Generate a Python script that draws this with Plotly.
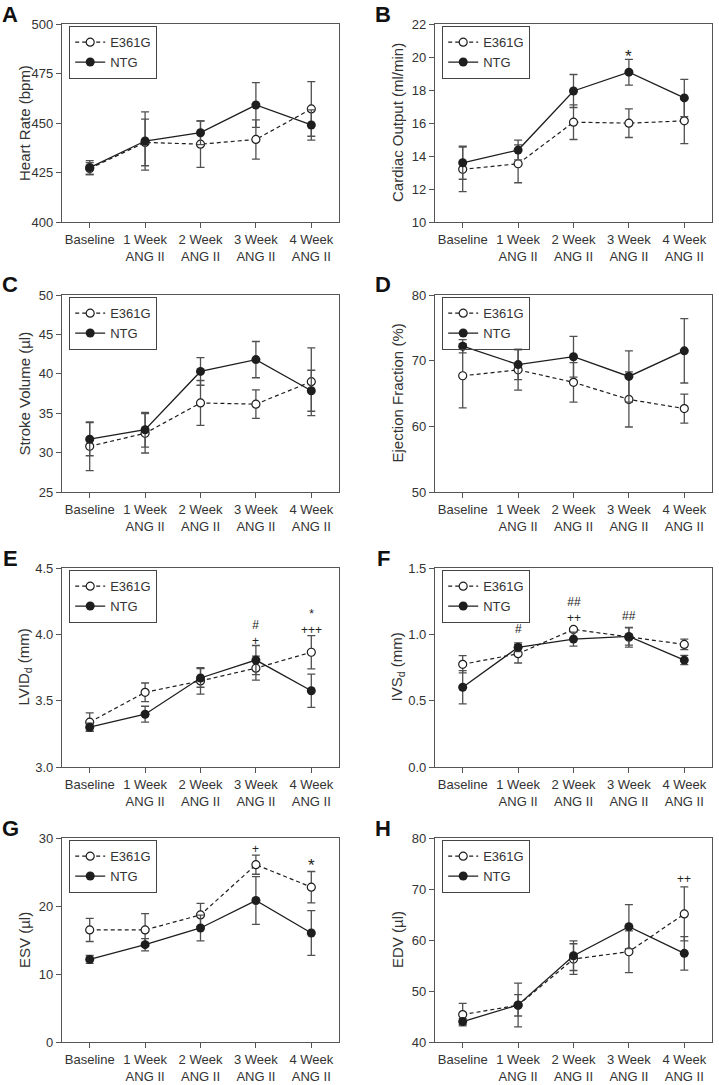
import plotly.graph_objects as go

W, H = 719, 1085

categories = ["Baseline", "1 Week<br>ANG II", "2 Week<br>ANG II", "3 Week<br>ANG II", "4 Week<br>ANG II"]
series_names = ["E361G", "NTG"]

# A: Heart rate (bpm)
hr_e361g = [427.0, 440.2, 439.3, 441.7, 457.1]
hr_e361g_err = [3.0, 11.8, 11.7, 9.9, 13.8]
hr_ntg = [427.5, 440.9, 445.1, 459.1, 449.0]
hr_ntg_err = [3.5, 14.7, 6.0, 11.3, 7.6]

# B: Cardiac output (ml/min)
co_e361g = [13.19, 13.53, 16.05, 15.99, 16.13]
co_e361g_err = [1.35, 1.15, 1.05, 0.87, 1.38]
co_ntg = [13.59, 14.36, 17.94, 19.08, 17.52]
co_ntg_err = [1.0, 0.6, 1.0, 0.78, 1.13]

# C: Stroke volume (µl)
sv_e361g = [30.8, 32.45, 36.3, 36.15, 39.0]
sv_e361g_err = [3.1, 2.5, 2.85, 1.8, 4.3]
sv_ntg = [31.7, 32.9, 40.3, 41.8, 37.85]
sv_ntg_err = [2.1, 2.2, 1.75, 2.3, 2.6]

# D: Ejection fraction (%)
ef_e361g = [67.7, 68.6, 66.7, 64.1, 62.7]
ef_e361g_err = [4.9, 3.1, 3.0, 4.2, 2.2]
ef_ntg = [72.2, 69.4, 70.6, 67.6, 71.5]
ef_ntg_err = [1.0, 2.3, 3.1, 3.9, 4.9]

# E: LVIDd (mm)
lvid_e361g = [3.338, 3.563, 3.649, 3.745, 3.865]
lvid_e361g_err = [0.07, 0.07, 0.10, 0.09, 0.125]
lvid_ntg = [3.30, 3.398, 3.671, 3.806, 3.575]
lvid_ntg_err = [0.03, 0.06, 0.07, 0.11, 0.125]

# F: IVSd (mm)
ivs_e361g = [0.774, 0.854, 1.037, 0.978, 0.924]
ivs_e361g_err = [0.065, 0.07, 0.01, 0.075, 0.04]
ivs_ntg = [0.601, 0.902, 0.964, 0.984, 0.806]
ivs_ntg_err = [0.125, 0.033, 0.053, 0.065, 0.035]

# G: ESV (µl)
esv_e361g = [16.48, 16.48, 18.69, 26.07, 22.77]
esv_e361g_err = [1.7, 2.4, 1.7, 1.4, 2.3]
esv_ntg = [12.15, 14.31, 16.77, 20.81, 16.03]
esv_ntg_err = [0.6, 0.9, 1.9, 3.5, 3.3]

# H: EDV (µl)
edv_e361g = [45.38, 47.2, 56.26, 57.7, 65.11]
edv_e361g_err = [2.2, 2.1, 3.0, 4.1, 5.3]
edv_ntg = [44.0, 47.25, 56.92, 62.62, 57.38]
edv_ntg_err = [0.6, 4.3, 2.9, 4.3, 3.3]

panel_letters = ["A", "B", "C", "D", "E", "F", "G", "H"]
y_titles = ["Heart Rate (bpm)", "Cardiac Output (ml/min)", "Stroke Volume (µl)",
            "Ejection Fraction (%)", "LVID<sub>d</sub> (mm)", "IVS<sub>d</sub> (mm)",
            "ESV (µl)", "EDV (µl)"]
y_ticks = [[400, 425, 450, 475, 500], [10, 12, 14, 16, 18, 20, 22], [25, 30, 35, 40, 45, 50],
           [50, 60, 70, 80], [3.0, 3.5, 4.0, 4.5], [0.0, 0.5, 1.0, 1.5], [0, 10, 20, 30],
           [40, 50, 60, 70, 80]]
y_tickformat = ["d", "d", "d", "d", ".1f", ".1f", "d", "d"]

# significance marks: (category index, y value, text)
sig_B = [(3, 20.3, "*")]
sig_E = [(3, 4.01, "#<br>+"), (4, 4.09, "*<br>+++")]
sig_F = [(1, 1.044, "#"), (2, 1.18, "##<br>++"), (3, 1.137, "##")]
sig_G = [(3, 28.4, "+"), (4, 26.5, "*")]
sig_H = [(4, 71.9, "++")]
sig_marks = [[], sig_B, [], [], sig_E, sig_F, sig_G, sig_H]

panel_data = [
    (hr_e361g, hr_e361g_err, hr_ntg, hr_ntg_err),
    (co_e361g, co_e361g_err, co_ntg, co_ntg_err),
    (sv_e361g, sv_e361g_err, sv_ntg, sv_ntg_err),
    (ef_e361g, ef_e361g_err, ef_ntg, ef_ntg_err),
    (lvid_e361g, lvid_e361g_err, lvid_ntg, lvid_ntg_err),
    (ivs_e361g, ivs_e361g_err, ivs_ntg, ivs_ntg_err),
    (esv_e361g, esv_e361g_err, esv_ntg, esv_ntg_err),
    (edv_e361g, edv_e361g_err, edv_ntg, edv_ntg_err),
]

# layout geometry (pixels)
cols_px = [(62, 339), (435, 712)]
rows_px = [(24, 222), (295, 492), (568, 767), (838, 1042)]

def px_x(p):
    return p / W

def px_y(p):
    return 1 - p / H

FONT = "Liberation Sans, Arial, Helvetica, sans-serif"
LINE_C = "#1e1e1e"
ERR_C = "#505050"
AX_C = "#555555"
TXT_C = "#333333"

fig = go.Figure()
layout = {}
annotations = []

for i in range(8):
    r, c = divmod(i, 2)
    x0, x1 = cols_px[c]
    yt, yb = rows_px[r]
    sfx = "" if i == 0 else str(i + 1)
    xa, ya = "x" + sfx, "y" + sfx
    leg = "legend" + sfx
    e_vals, e_err, n_vals, n_err = panel_data[i]

    fig.add_trace(go.Scatter(
        x=categories, y=e_vals, name=series_names[0], xaxis=xa, yaxis=ya, legend=leg,
        mode="lines+markers",
        line=dict(color=LINE_C, width=1.2, dash="4px,3px"),
        marker=dict(symbol="circle", size=8, color="white", line=dict(color=LINE_C, width=1.2)),
        error_y=dict(type="data", array=e_err, visible=True, color=ERR_C, thickness=1.3, width=4),
    ))
    fig.add_trace(go.Scatter(
        x=categories, y=n_vals, name=series_names[1], xaxis=xa, yaxis=ya, legend=leg,
        mode="lines+markers",
        line=dict(color=LINE_C, width=1.3),
        marker=dict(symbol="circle", size=9, color=LINE_C),
        error_y=dict(type="data", array=n_err, visible=True, color=ERR_C, thickness=1.3, width=4),
    ))

    layout["xaxis" + sfx] = dict(
        domain=[px_x(x0), px_x(x1)], anchor=ya, type="category", automargin=False,
        range=[-0.5, 4.5], showline=True, linecolor=AX_C, linewidth=1.2, mirror=True,
        ticks="outside", ticklen=5, tickcolor=AX_C, tickwidth=1.2,
        tickfont=dict(size=13, color=TXT_C, family=FONT), showgrid=False, zeroline=False,
    )
    yt_vals = y_ticks[i]
    layout["yaxis" + sfx] = dict(
        domain=[px_y(yb), px_y(yt)], anchor=xa, automargin=False,
        range=[yt_vals[0], yt_vals[-1]], tickvals=yt_vals, tickformat=y_tickformat[i],
        showline=True, linecolor=AX_C, linewidth=1.2, mirror=True,
        ticks="outside", ticklen=5, tickcolor=AX_C, tickwidth=1.2,
        tickfont=dict(size=13, color=TXT_C, family=FONT), showgrid=False, zeroline=False,
    )
    layout[leg] = dict(
        x=px_x(x0 + 7), y=px_y(yt + 2), xanchor="left", yanchor="top",
        bordercolor="#444444", borderwidth=1.2, bgcolor="rgba(255,255,255,0)", itemwidth=30,
        font=dict(size=13, color=TXT_C, family=FONT),
    )
    # y-axis title
    annotations.append(dict(
        text=y_titles[i], textangle=-90, xref="paper", yref="paper",
        x=px_x(x0 - 38), y=px_y((yt + yb) / 2), xanchor="center", yanchor="middle",
        showarrow=False, font=dict(size=15, color=TXT_C, family=FONT),
    ))
    # panel letter
    annotations.append(dict(
        text="<b>" + panel_letters[i] + "</b>", xref="paper", yref="paper",
        x=px_x(x0 - 52), y=px_y(yt - 10), xanchor="center", yanchor="middle",
        showarrow=False, font=dict(size=22, color="#111111", family=FONT),
    ))
    for (ci, yv, txt) in sig_marks[i]:
        big = txt == "*" and i in (1, 6)
        annotations.append(dict(
            text=txt, xref=xa, yref=ya, x=categories[ci], y=yv,
            xanchor="center", yanchor="middle", showarrow=False,
            yshift=-4 if big else 0,
            font=dict(size=17 if big else 12, color="#222222", family=FONT),
        ))

fig.update_layout(
    template="none",
    width=W, height=H, margin=dict(l=0, r=0, t=0, b=0, pad=0, autoexpand=False),
    paper_bgcolor="white", plot_bgcolor="white",
    font=dict(family=FONT, color=TXT_C),
    annotations=annotations, **layout,
)

fig.write_html(
    "out.html",
    config={"displayModeBar": False},
    post_script="document.body.style.margin='0';document.body.style.padding='0';"
                "document.documentElement.style.overflow='hidden';",
)
